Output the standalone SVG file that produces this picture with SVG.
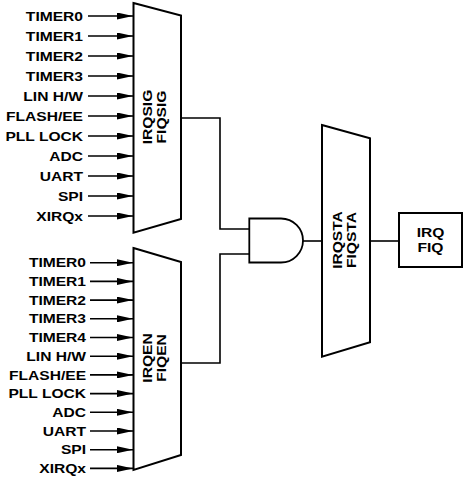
<svg xmlns="http://www.w3.org/2000/svg" width="464" height="482" viewBox="0 0 464 482">
<style>
.lbl{font-family:"Liberation Sans",Arial,sans-serif;font-weight:bold;font-size:13px;fill:#000}
.e{text-anchor:end}
.m{text-anchor:middle}
.shape{fill:#fff;stroke:#000;stroke-width:2;stroke-linejoin:miter}
.wire{fill:none;stroke:#000;stroke-width:1.6}
</style>
<defs>
<marker id="ah" markerWidth="16" markerHeight="7" refX="16" refY="3.5" orient="auto" markerUnits="userSpaceOnUse">
<path d="M0,0 L16,3.5 L0,7 Z" fill="#000"/>
</marker>
</defs>
<rect width="464" height="482" fill="#fff"/>
<g id="connectors">
<g class="wire" marker-end="url(#ah)">
<path d="M88,16 H133"/><path d="M88,36 H133"/><path d="M88,56 H133"/><path d="M88,76 H133"/><path d="M88,96 H133"/><path d="M88,116 H133"/><path d="M88,136 H133"/><path d="M88,156 H133"/><path d="M88,176 H133"/><path d="M88,196 H133"/><path d="M88,216 H133"/>
<path d="M90,262.7 H133"/><path d="M90,281.4 H133"/><path d="M90,300.1 H133"/><path d="M90,318.8 H133"/><path d="M90,337.5 H133"/><path d="M90,356.2 H133"/><path d="M90,374.9 H133"/><path d="M90,393.6 H133"/><path d="M90,412.3 H133"/><path d="M90,431 H133"/><path d="M90,449.7 H133"/><path d="M90,468.4 H133"/>
</g>
<path class="wire" d="M181,118 H220 V229 H249"/>
<path class="wire" d="M181,363 H220 V254 H249"/>
<path class="wire" d="M303,241 H322"/>
<path class="wire" d="M370,241 H399"/>
</g>
<g id="labels-top" class="lbl e">
<g transform="scale(1.2,1)">
<text x="69.2" y="20.7">TIMER0</text>
<text x="69.2" y="40.7">TIMER1</text>
<text x="69.2" y="60.7">TIMER2</text>
<text x="69.2" y="80.7">TIMER3</text>
<text x="69.2" y="100.7">LIN H/W</text>
<text x="69.2" y="120.7">FLASH/EE</text>
<text x="69.2" y="140.7">PLL LOCK</text>
<text x="69.2" y="160.7">ADC</text>
<text x="69.2" y="180.7">UART</text>
<text x="69.2" y="200.7">SPI</text>
<text x="69.2" y="220.7">XIRQx</text>
</g>
</g>
<g id="labels-bottom" class="lbl e">
<g transform="scale(1.2,1)">
<text x="71.7" y="267.4">TIMER0</text>
<text x="71.7" y="286.1">TIMER1</text>
<text x="71.7" y="304.8">TIMER2</text>
<text x="71.7" y="323.5">TIMER3</text>
<text x="71.7" y="342.2">TIMER4</text>
<text x="71.7" y="360.9">LIN H/W</text>
<text x="71.7" y="379.6">FLASH/EE</text>
<text x="71.7" y="398.3">PLL LOCK</text>
<text x="71.7" y="417">ADC</text>
<text x="71.7" y="435.7">UART</text>
<text x="71.7" y="454.4">SPI</text>
<text x="71.7" y="473.1">XIRQx</text>
</g>
</g>
<g id="mux-sig">
<path class="shape" d="M133.5,3 L181,15.5 L181,219 L133.5,232.7 Z"/>
<g class="lbl m" transform="translate(151.5,117) rotate(-90) scale(1.2,1)">
<text x="0" y="0">IRQSIG</text>
<text x="0" y="15">FIQSIG</text>
</g>
</g>
<g id="mux-en">
<path class="shape" d="M133.5,248 L181,262 L181,455 L133.5,470 Z"/>
<g class="lbl m" transform="translate(151.5,358) rotate(-90) scale(1.2,1)">
<text x="0" y="0">IRQEN</text>
<text x="0" y="15">FIQEN</text>
</g>
</g>
<g id="and-gate">
<path class="shape" d="M249.3,218.5 H281 A22,22 0 0 1 281,262.5 H249.3 Z" style="stroke-width:1.8"/>
</g>
<g id="mux-sta">
<path class="shape" d="M322,125 L370,138.3 L370,342.3 L322,356.7 Z"/>
<g class="lbl m" transform="translate(341.5,240) rotate(-90) scale(1.2,1)">
<text x="0" y="0">IRQSTA</text>
<text x="0" y="15">FIQSTA</text>
</g>
</g>
<g id="irq-fiq">
<rect class="shape" x="399" y="213" width="63" height="54"/>
<g class="lbl m" transform="translate(430.5,0) scale(1.2,1)">
<text x="0" y="237.5">IRQ</text>
<text x="0" y="252.5">FIQ</text>
</g>
</g>
</svg>
